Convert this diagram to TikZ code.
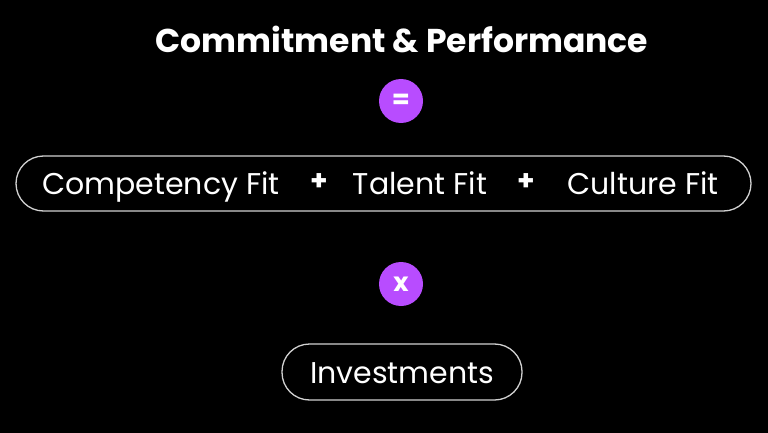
\documentclass[tikz,border=0pt]{standalone}
\usepackage{fontspec}
\setmainfont{Poppins}
\definecolor{accent}{RGB}{184,76,255}
\definecolor{pillline}{RGB}{210,210,210}
\begin{document}
\begin{tikzpicture}[x=1pt,y=-1pt,
  pill/.style={draw=pillline,line width=1.3pt,rounded corners=27.5pt,inner sep=0pt},
  lbl/.style={text=white,font=\fontsize{30}{33}\selectfont,inner sep=0pt,anchor=base},
  op/.style={circle,fill=accent,minimum size=44pt,inner sep=0pt,text=white,font=\bfseries\fontsize{26}{28}\selectfont},
  plus/.style={text=white,font=\bfseries\fontsize{28}{30}\selectfont,inner sep=0pt}]
\fill[black] (0,0) rectangle (768,433);
\useasboundingbox (0,0) rectangle (768,433);
\node[text=white,font=\bfseries\fontsize{33}{36}\selectfont,inner sep=0pt] (title) at (402,39) {Commitment \& Performance};
\node[op] (eq) at (401,101) {=};
\node[pill,minimum width=735pt,minimum height=55pt] (fits) at (383.5,183.5) {};
\node[lbl] (comp) at (161,194) {Competency Fit};
\node[plus] (p1) at (319,182) {+};
\node[lbl] (tal) at (420,194) {Talent Fit};
\node[plus] (p2) at (526,182) {+};
\node[lbl] (cul) at (643,194) {Culture Fit};
\node[op] (times) at (401,284) {x};
\node[pill,minimum width=240pt,minimum height=56pt] (inv) at (402,372) {};
\node[lbl] (invt) at (402,383) {Investments};
\end{tikzpicture}
\end{document}
